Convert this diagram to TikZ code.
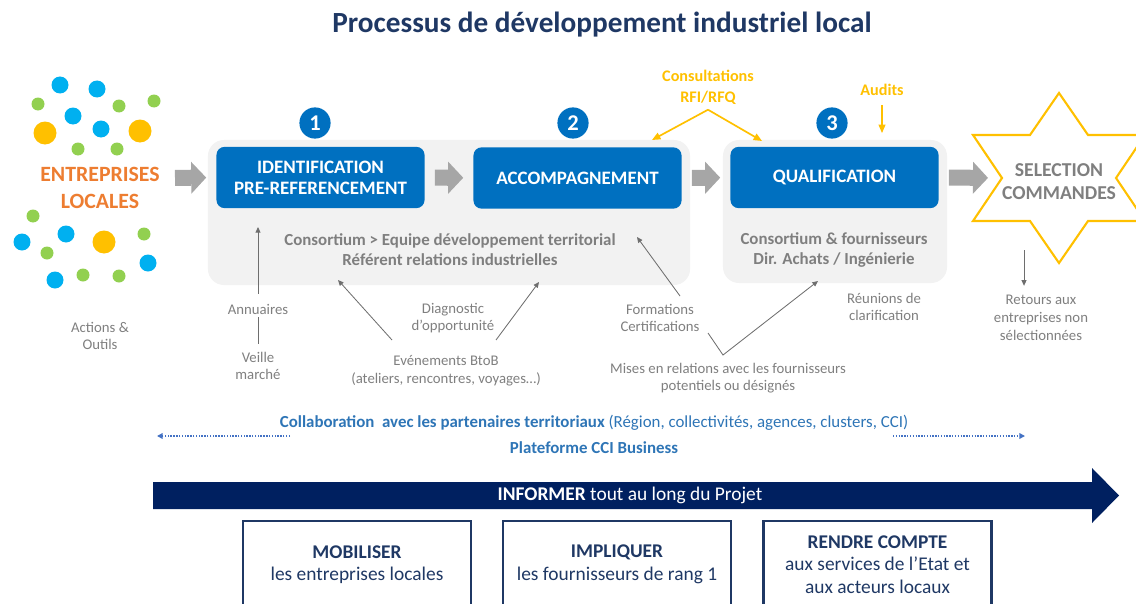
\documentclass[tikz,border=0pt]{standalone}
\usepackage{fontspec}
\setmainfont{Carlito}
\usepackage{xcolor}
\usepackage{tikz}
\usetikzlibrary{arrows.meta,positioning,calc}
\definecolor{navyblue}{HTML}{1F3864}
\definecolor{deepnavy}{HTML}{002060}
\definecolor{stepblue}{HTML}{0070C0}
\definecolor{panelgray}{HTML}{F2F2F2}
\definecolor{arrowgray}{HTML}{A6A6A6}
\definecolor{textgray}{HTML}{7F7F7F}
\definecolor{linegray}{HTML}{6E6E6E}
\definecolor{entorange}{HTML}{ED7D31}
\definecolor{goldyellow}{HTML}{FFC000}
\definecolor{dotblue}{HTML}{00B0F0}
\definecolor{dotgreen}{HTML}{92D050}
\definecolor{collabblue}{HTML}{2E75B6}
\definecolor{dotline}{HTML}{4472C4}

\begin{document}
\begin{tikzpicture}[x=0.025cm,y=-0.025cm,
    stepbox/.style={fill=stepblue, rounded corners=0.2cm, minimum width=5.2cm,
      minimum height=1.53cm, align=center, text=white,
      font=\fontsize{13.5}{15}\selectfont\bfseries},
    panel/.style={fill=panelgray, rounded corners=0.4cm},
    stepnum/.style={circle, fill=stepblue, minimum size=0.78cm, inner sep=0pt,
      text=white, font=\fontsize{16}{16}\selectfont\bfseries},
    flowarrow/.style={arrowgray, line width=0.4cm,
      -{Triangle[length=0.375cm,width=0.8cm,line width=0pt]},
      shorten <=0.25cm, shorten >=0.25cm},
    paneltext/.style={text=textgray, align=center,
      font=\fontsize{12}{14.2}\selectfont\bfseries},
    note/.style={text=textgray, align=center, inner sep=1pt,
      font=\fontsize{10.5}{12.6}\selectfont},
    noteline/.style={draw=linegray, line width=0.6pt},
    notearrow/.style={noteline, -{Triangle[length=4pt,width=3.5pt]}},
    goldarrow/.style={draw=goldyellow, line width=1.2pt,
      -{Triangle[length=6pt,width=5pt]}},
    goldtext/.style={text=goldyellow, align=center,
      font=\fontsize{11.5}{15}\selectfont\bfseries},
    dotarrow/.style={draw=dotline, densely dotted, line width=1pt,
      -{Triangle[length=4pt,width=4pt]}},
    engage/.style={draw=navyblue, line width=1.8pt, minimum width=5.7cm,
      minimum height=2.175cm, align=center, text=navyblue,
      font=\fontsize{13.8}{16}\selectfont}]

  \useasboundingbox (0,0) rectangle (1136,604);
  \clip (0,0) rectangle (1136,604);

  \node[text=navyblue, font=\fontsize{20.8}{24}\selectfont\bfseries] (title)
    at (602,25) {Processus de développement industriel local};

  % entreprises locales
  \fill[dotblue] (60,85) circle (8.5);
  \fill[dotblue] (97,89) circle (8.5);
  \fill[dotblue] (73,116) circle (8.5);
  \fill[dotblue] (101,129) circle (8.5);
  \fill[dotblue] (22,242) circle (8.5);
  \fill[dotblue] (66,234) circle (8.5);
  \fill[dotblue] (148,263) circle (8.5);
  \fill[dotblue] (55,280) circle (8.5);
  \fill[dotgreen] (38,104) circle (6.5);
  \fill[dotgreen] (119,106) circle (6.5);
  \fill[dotgreen] (154,101) circle (6.5);
  \fill[dotgreen] (78,149) circle (6.5);
  \fill[dotgreen] (117,149) circle (6.5);
  \fill[dotgreen] (33,216) circle (6.5);
  \fill[dotgreen] (47,253) circle (6.5);
  \fill[dotgreen] (144,234) circle (6.5);
  \fill[dotgreen] (83,275) circle (6.5);
  \fill[dotgreen] (119,276) circle (6.5);
  \fill[goldyellow] (45,133) circle (11.5);
  \fill[goldyellow] (140,131) circle (11.5);
  \fill[goldyellow] (104,242) circle (11.5);
  \node[text=entorange, align=center,
        font=\fontsize{15.5}{19}\selectfont\bfseries] (entr) at (100,188)
        {ENTREPRISES\\LOCALES};
  \node[note] (actions) at (100,336) {Actions \&\\Outils};

  % panels and steps
  \node[panel, minimum width=12.05cm, minimum height=3.625cm] (panel1)
    at (449,212.5) {};
  \node[panel, minimum width=5.6cm, minimum height=3.575cm] (panel2)
    at (835,211.5) {};
  \node[stepbox] (ident) at (320.5,177.5) {IDENTIFICATION\\PRE-REFERENCEMENT};
  \node[stepbox] (accomp) at (577.5,178) {ACCOMPAGNEMENT};
  \node[stepbox] (qualif) at (834.5,177.5) {QUALIFICATION};
  \node[stepnum] (num1) at (315,123) {1};
  \node[stepnum] (num2) at (573,123) {2};
  \node[stepnum] (num3) at (832,123) {3};
  \node[paneltext] (team1) at (450,250)
    {Consortium > Equipe développement territorial\\Référent relations industrielles};
  \node[paneltext] (team2) at (834,250)
    {Consortium \& fournisseurs\\Dir. Achats / Ingénierie};

  % selection star
  \draw[goldyellow, line width=1.5pt, line join=miter] (1059,93) -- (1088,135)
    -- (1145,135) -- (1116,178) -- (1145,221) -- (1088,221) -- (1059,263)
    -- (1030,221) -- (973,221) -- (1002,178) -- (973,135) -- (1030,135) -- cycle;
  \coordinate (starin) at (1002,178);
  \node[text=textgray, align=center,
        font=\fontsize{14}{16.3}\selectfont\bfseries] (select) at (1059,181.5)
        {SELECTION\\COMMANDES};

  \coordinate (src) at (165,178);
  \draw[flowarrow] (src) -- (ident.west);
  \draw[flowarrow] (ident) -- (accomp);
  \draw[flowarrow] (accomp) -- (qualif);
  \draw[flowarrow, shorten >=0.35cm] (qualif.east) -- (starin);

  % consultations, audits
  \node[goldtext] (consult) at (708,87.5) {Consultations\\RFI/RFQ};
  \coordinate (rfiL) at (652,140);
  \coordinate (rfiR) at (762,141);
  \draw[goldarrow] (consult.south) -- (rfiL);
  \draw[goldarrow] (consult.south) -- (rfiR);
  \node[goldtext] (audits) at (882,90) {Audits};
  \coordinate (auditTip) at (882,133);
  \draw[goldarrow, line width=0.8pt, shorten <=3pt] (audits.south) -- (auditTip);

  % actions et outils
  \node[note] (annu) at (258,309) {Annuaires};
  \node[note] (veille) at (258,366) {Veille\\marché};
  \coordinate (annuTip) at (258,227);
  \draw[notearrow, shorten <=0.21cm] (annu.north) -- (annuTip);
  \draw[noteline, shorten <=0.04cm, shorten >=0.16cm] (annu.south) -- (veille.north);
  \node[note] (diag) at (453,318) {Diagnostic\\d’opportunité};
  \node[note] (events) at (446,371)
    {Evénements BtoB\\(ateliers, rencontres, voyages…)};
  \coordinate (evL) at (392,340);
  \coordinate (evR) at (496,340);
  \coordinate (evLTip) at (338,280);
  \coordinate (evRTip) at (539,282);
  \draw[notearrow] (evL) -- (evLTip);
  \draw[notearrow] (evR) -- (evRTip);
  \node[note] (formation) at (660,318) {Formations\\Certifications};
  \coordinate (formTail) at (680,296);
  \coordinate (formTip) at (637,237);
  \draw[notearrow] (formTail) -- (formTip);
  \node[note] (mises) at (728,378)
    {Mises en relations avec les fournisseurs\\potentiels ou désignés};
  \coordinate (misesA) at (708,333);
  \coordinate (misesB) at (723,355);
  \coordinate (misesTip) at (818,281);
  \draw[notearrow] (misesA) -- (misesB) -- (misesTip);
  \node[note] (reunion) at (884,307) {Réunions de\\clarification};
  \node[note] (retours) at (1041,318) {Retours aux\\entreprises non\\sélectionnées};
  \coordinate (retTop) at (1024,250);
  \draw[notearrow, shorten >=0.2cm] (retTop) -- (retTop |- retours.north);

  % collaboration
  \node[text=collabblue, font=\fontsize{12}{14}\selectfont] (collab) at (594,423)
    {\textbf{Collaboration\ \ avec les partenaires territoriaux} (Région, collectivités, agences, clusters, CCI)};
  \node[text=collabblue, font=\fontsize{12}{14}\selectfont\bfseries] (ccibiz)
    at (594,448) {Plateforme CCI Business};
  \coordinate (dotL) at (290,436);
  \coordinate (dotLTip) at (157,436);
  \coordinate (dotR) at (893,436);
  \coordinate (dotRTip) at (1025,436);
  \draw[dotarrow] (dotL) -- (dotLTip);
  \draw[dotarrow] (dotR) -- (dotRTip);

  % informer
  \fill[deepnavy] (153,482) -- (1092,482) -- (1092,468) -- (1119,495.5)
    -- (1092,523) -- (1092,509) -- (153,509) -- cycle;
  \node[text=white, font=\fontsize{13.8}{16}\selectfont] (inform) at (630,495)
    {\textbf{INFORMER} tout au long du Projet};

  \node[engage] (mobil) at (357,564.5) {\textbf{MOBILISER}\\les entreprises locales};
  \node[engage] (impli) at (617,564.5) {\textbf{IMPLIQUER}\\les fournisseurs de rang 1};
  \node[engage] (rendre) at (877.5,564.5)
    {\textbf{RENDRE COMPTE}\\aux services de l’Etat et\\aux acteurs locaux};
\end{tikzpicture}
\end{document}
